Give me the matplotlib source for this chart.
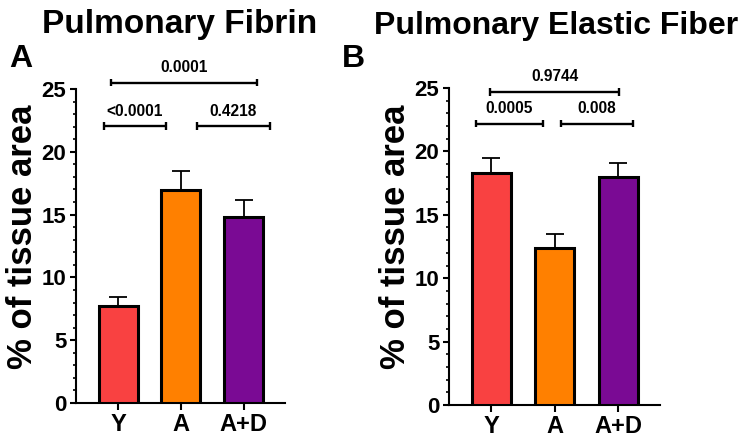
import matplotlib
matplotlib.use("Agg")
import matplotlib.pyplot as plt
from matplotlib.ticker import MultipleLocator

plt.rcParams["font.family"] = ["Liberation Sans", "DejaVu Sans"]
plt.rcParams["font.weight"] = "bold"

groups = ["Y", "A", "A+D"]
colors = ["#F94141", "#FF8000", "#7A0A94"]

fibrin_mean = [7.75, 16.95, 14.8]
fibrin_sem = [0.72, 1.55, 1.35]
fibrin_pvals = ["0.0001", "<0.0001", "0.4218"]

elastic_mean = [18.3, 12.4, 17.95]
elastic_sem = [1.2, 1.1, 1.1]
elastic_pvals = ["0.9744", "0.0005", "0.008"]


def draw_bracket(ax, x0, x1, y, label, tick=0.3):
    ax.plot([x0, x1], [y, y], color="black", lw=1.7, clip_on=False,
            solid_capstyle="butt")
    for x in (x0, x1):
        ax.plot([x, x], [y - tick, y + tick], color="black", lw=1.7,
                clip_on=False, solid_capstyle="butt")
    ax.text((x0 + x1) / 2, y + 0.6, label, ha="center", va="bottom",
            fontsize=11.2, fontweight="bold")


def bar_panel(ax, means, sems, pvals, brackets):
    x = range(len(groups))
    ax.bar(x, means, width=0.62, color=colors, edgecolor="black",
           linewidth=2.2, zorder=3)
    ax.errorbar(x, means, yerr=[[0] * len(sems), sems], fmt="none",
                ecolor="black", elinewidth=1.3, capsize=6.8, capthick=1.3,
                zorder=2)
    ax.set_ylim(0, 25)
    ax.set_xlim(-0.67, 2.66)
    ax.yaxis.set_major_locator(MultipleLocator(5))
    ax.yaxis.set_minor_locator(MultipleLocator(1))
    ax.set_xticks(list(x))
    ax.set_xticklabels(groups, fontsize=17, fontweight="bold")
    ax.tick_params(axis="y", which="major", length=4, width=1.5,
                   labelsize=16, pad=3)
    ax.tick_params(axis="y", which="minor", length=2.5, width=1.2)
    ax.tick_params(axis="x", length=5, width=1.5, pad=2)
    for lbl in ax.get_yticklabels():
        lbl.set_fontweight("bold")
    for s in ("top", "right"):
        ax.spines[s].set_visible(False)
    for s in ("left", "bottom"):
        ax.spines[s].set_linewidth(1.5)
    ax.set_ylabel("% of tissue area", fontsize=25, fontweight="bold",
                  labelpad=2, y=0.53)
    for p, (x0, x1, y) in zip(pvals, brackets):
        draw_bracket(ax, x0, x1, y, p)


fig = plt.figure(figsize=(7.42, 4.42), dpi=100)
W, H = 742, 442

axA = fig.add_axes([76 / W, (H - 403) / H, (285 - 76) / W, (403 - 89) / H])
bar_panel(axA, fibrin_mean, fibrin_sem, fibrin_pvals,
          [(-0.12, 2.21, 25.5), (-0.23, 0.77, 22.05), (1.26, 2.42, 22.05)])

axB = fig.add_axes([449 / W, (H - 405) / H, (660 - 449) / W, (405 - 88) / H])
bar_panel(axB, elastic_mean, elastic_sem, elastic_pvals,
          [(-0.02, 2.02, 24.7), (-0.25, 0.82, 22.2), (1.09, 2.23, 22.2)])

fig.text(180 / W, 1 - 24 / H, "Pulmonary Fibrin", fontsize=24,
         fontweight="bold", ha="center", va="center")
fig.text(556 / W, 1 - 26 / H, "Pulmonary Elastic Fiber", fontsize=23,
         fontweight="bold", ha="center", va="center")
fig.text(21 / W, 1 - 59 / H, "A", fontsize=23, fontweight="bold",
         ha="center", va="center")
fig.text(353 / W, 1 - 59 / H, "B", fontsize=23, fontweight="bold",
         ha="center", va="center")

fig.savefig("out.png", dpi=100)
